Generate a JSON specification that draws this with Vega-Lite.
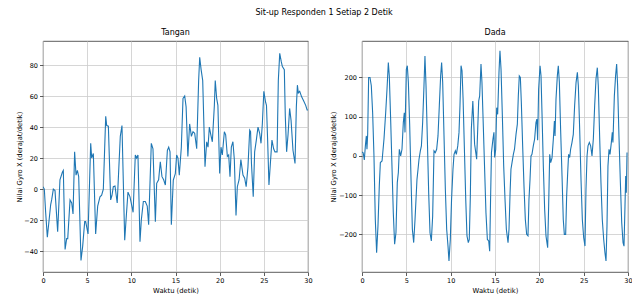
{
"$schema": "https://vega.github.io/schema/vega-lite/v6.json",
"background": "white",
"padding": {"left": 15, "top": 8, "right": 4, "bottom": 1},
"title": {"text": "Sit-up Responden 1 Setiap 2 Detik", "fontSize": 8, "font": "DejaVu Sans", "fontWeight": "normal", "anchor": "middle", "color": "black", "offset": 12},
"config": {
 "font": "DejaVu Sans",
 "view": {"stroke": "#333333", "strokeWidth": 0.8},
 "title": {"fontSize": 8, "fontWeight": "normal", "color": "black", "font": "DejaVu Sans", "offset": 4},
 "axis": {"labelFont": "DejaVu Sans", "titleFont": "DejaVu Sans", "labelFontSize": 6.5, "titleFontSize": 6.8, "titleFontWeight": "normal", "labelColor": "black", "titleColor": "black", "tickColor": "#333333", "tickSize": 3.5, "tickWidth": 0.8, "labelPadding": 2, "domain": false, "grid": true, "gridColor": "#cccccc", "gridWidth": 0.8, "titlePadding": 3}
},
"datasets": {
 "tangan": [
{"t":0,"v":1.5},{"t":0.15,"v":0},{"t":0.3,"v":-15},{"t":0.49,"v":-31},{"t":0.6,"v":-25},{"t":0.87,"v":-10},{"t":0.98,"v":-7},{"t":1.17,"v":0},{"t":1.36,"v":-1},{"t":1.66,"v":-27.5},{"t":1.92,"v":6},{"t":2.2,"v":11},{"t":2.3,"v":12},{"t":2.5,"v":-39},{"t":2.68,"v":-32},{"t":2.8,"v":-32},{"t":3.06,"v":-7},{"t":3.25,"v":-9},{"t":3.4,"v":-16},{"t":3.58,"v":24},{"t":3.74,"v":9},{"t":3.89,"v":12},{"t":4.04,"v":8},{"t":4.3,"v":-46},{"t":4.49,"v":-37},{"t":4.72,"v":-21},{"t":4.83,"v":-21},{"t":5.1,"v":-29},{"t":5.4,"v":29.5},{"t":5.51,"v":20},{"t":5.7,"v":23},{"t":5.96,"v":-29},{"t":6.19,"v":-11},{"t":6.45,"v":-5},{"t":6.64,"v":-4},{"t":6.83,"v":0},{"t":7.1,"v":47},{"t":7.21,"v":41},{"t":7.4,"v":40.6},{"t":7.66,"v":-7},{"t":7.81,"v":-4},{"t":7.96,"v":1.5},{"t":8.15,"v":2},{"t":8.4,"v":-9},{"t":8.75,"v":34},{"t":8.94,"v":41},{"t":9.25,"v":-33},{"t":9.4,"v":-20},{"t":9.62,"v":-2},{"t":9.85,"v":-5},{"t":10.2,"v":-15},{"t":10.45,"v":22},{"t":10.6,"v":20},{"t":10.75,"v":22},{"t":10.98,"v":-34},{"t":11.13,"v":-20},{"t":11.36,"v":-8},{"t":11.58,"v":-8},{"t":11.8,"v":-11},{"t":11.96,"v":-23},{"t":12.26,"v":29.5},{"t":12.45,"v":26},{"t":12.72,"v":-21},{"t":12.87,"v":3.7},{"t":13.09,"v":6},{"t":13.28,"v":17.6},{"t":13.47,"v":8},{"t":13.66,"v":6},{"t":13.85,"v":2.6},{"t":14.08,"v":25},{"t":14.23,"v":27},{"t":14.38,"v":24},{"t":14.53,"v":-23},{"t":14.75,"v":5.8},{"t":14.98,"v":10},{"t":15.13,"v":22},{"t":15.28,"v":20},{"t":15.43,"v":9},{"t":15.66,"v":27},{"t":15.85,"v":58.5},{"t":16.04,"v":60},{"t":16.2,"v":53},{"t":16.4,"v":21},{"t":16.6,"v":42},{"t":16.8,"v":34},{"t":16.98,"v":37},{"t":17.17,"v":36},{"t":17.4,"v":26},{"t":17.62,"v":70},{"t":17.74,"v":85},{"t":17.9,"v":77},{"t":18.08,"v":70},{"t":18.34,"v":14.4},{"t":18.53,"v":30.5},{"t":18.68,"v":27},{"t":18.83,"v":40},{"t":19.0,"v":35},{"t":19.17,"v":30.5},{"t":19.4,"v":54},{"t":19.5,"v":70},{"t":19.66,"v":58.5},{"t":19.8,"v":54},{"t":20.0,"v":10},{"t":20.15,"v":27},{"t":20.3,"v":22},{"t":20.53,"v":37},{"t":20.68,"v":35},{"t":20.87,"v":21},{"t":21.02,"v":22},{"t":21.17,"v":8},{"t":21.32,"v":27},{"t":21.5,"v":30.5},{"t":21.66,"v":19},{"t":21.85,"v":-17},{"t":22.0,"v":1.5},{"t":22.2,"v":6},{"t":22.4,"v":19},{"t":22.64,"v":9},{"t":22.83,"v":7},{"t":23.0,"v":1.5},{"t":23.2,"v":14},{"t":23.4,"v":38},{"t":23.5,"v":37},{"t":23.6,"v":16.5},{"t":23.8,"v":-5},{"t":23.96,"v":24},{"t":24.15,"v":31.6},{"t":24.34,"v":40},{"t":24.53,"v":36},{"t":24.68,"v":29.5},{"t":24.83,"v":42},{"t":25.0,"v":63},{"t":25.2,"v":56},{"t":25.3,"v":54},{"t":25.43,"v":31.6},{"t":25.58,"v":2.6},{"t":25.74,"v":16.5},{"t":25.92,"v":31.6},{"t":26.11,"v":26},{"t":26.26,"v":24},{"t":26.5,"v":24},{"t":26.64,"v":70},{"t":26.8,"v":87.5},{"t":26.98,"v":82},{"t":27.1,"v":79},{"t":27.32,"v":77},{"t":27.43,"v":47},{"t":27.58,"v":24},{"t":27.74,"v":35},{"t":27.92,"v":52},{"t":28.08,"v":44.5},{"t":28.3,"v":25},{"t":28.53,"v":16.5},{"t":28.68,"v":53},{"t":28.8,"v":67},{"t":28.9,"v":62},{"t":29.06,"v":63},{"t":29.28,"v":59.5},{"t":29.5,"v":57},{"t":29.74,"v":54},{"t":29.9,"v":51},{"t":30,"v":51}
 ],
 "dada": [
{"t":0,"v":10},{"t":0.13,"v":8},{"t":0.26,"v":-10},{"t":0.38,"v":25.5},{"t":0.49,"v":51},{"t":0.56,"v":17},{"t":0.64,"v":55},{"t":0.75,"v":200},{"t":0.9,"v":200},{"t":1.05,"v":179},{"t":1.2,"v":110},{"t":1.35,"v":0},{"t":1.5,"v":-162},{"t":1.65,"v":-247},{"t":1.8,"v":-179},{"t":1.95,"v":-77},{"t":2.07,"v":-17},{"t":2.26,"v":-13},{"t":2.48,"v":43},{"t":2.67,"v":110},{"t":2.82,"v":170},{"t":2.97,"v":238},{"t":3.08,"v":204},{"t":3.23,"v":94},{"t":3.38,"v":-25.5},{"t":3.53,"v":-145},{"t":3.68,"v":-225},{"t":3.83,"v":-196},{"t":3.98,"v":-68},{"t":4.1,"v":-42.5},{"t":4.21,"v":17},{"t":4.36,"v":0},{"t":4.51,"v":17},{"t":4.66,"v":85},{"t":4.77,"v":110},{"t":4.85,"v":60},{"t":5.0,"v":221},{"t":5.11,"v":230},{"t":5.23,"v":187},{"t":5.38,"v":77},{"t":5.53,"v":-60},{"t":5.68,"v":-187},{"t":5.83,"v":-221},{"t":5.98,"v":-162},{"t":6.09,"v":-111},{"t":6.2,"v":-60},{"t":6.32,"v":-34},{"t":6.43,"v":-8.5},{"t":6.58,"v":13},{"t":6.7,"v":25.5},{"t":6.84,"v":85},{"t":6.99,"v":179},{"t":7.1,"v":255},{"t":7.22,"v":179},{"t":7.37,"v":43},{"t":7.52,"v":-94},{"t":7.67,"v":-196},{"t":7.82,"v":-217},{"t":7.97,"v":-153},{"t":8.12,"v":13},{"t":8.27,"v":8.5},{"t":8.42,"v":17},{"t":8.57,"v":51},{"t":8.72,"v":128},{"t":8.87,"v":204},{"t":8.98,"v":238},{"t":9.1,"v":187},{"t":9.25,"v":51},{"t":9.4,"v":-85},{"t":9.55,"v":-187},{"t":9.7,"v":-230},{"t":9.81,"v":-268},{"t":9.96,"v":-213},{"t":10.1,"v":-111},{"t":10.26,"v":-34},{"t":10.38,"v":4},{"t":10.53,"v":13},{"t":10.64,"v":4},{"t":10.8,"v":25.5},{"t":10.94,"v":60},{"t":11.05,"v":128},{"t":11.17,"v":230},{"t":11.28,"v":217},{"t":11.4,"v":145},{"t":11.54,"v":25.5},{"t":11.7,"v":-111},{"t":11.84,"v":-204},{"t":11.99,"v":-221},{"t":12.1,"v":-213},{"t":12.22,"v":-102},{"t":12.33,"v":68},{"t":12.5,"v":140},{"t":12.6,"v":85},{"t":12.7,"v":30},{"t":12.86,"v":4},{"t":12.93,"v":-8.5},{"t":13.05,"v":68},{"t":13.16,"v":140},{"t":13.27,"v":153},{"t":13.42,"v":234},{"t":13.53,"v":187},{"t":13.68,"v":77},{"t":13.83,"v":-34},{"t":13.98,"v":-145},{"t":14.14,"v":-213},{"t":14.29,"v":-217},{"t":14.4,"v":-243},{"t":14.5,"v":-111},{"t":14.6,"v":8.5},{"t":14.77,"v":43},{"t":14.88,"v":60},{"t":14.96,"v":-4},{"t":15.08,"v":17},{"t":15.19,"v":123},{"t":15.3,"v":106},{"t":15.45,"v":213},{"t":15.56,"v":268},{"t":15.68,"v":221},{"t":15.83,"v":102},{"t":15.98,"v":-25.5},{"t":16.13,"v":-111},{"t":16.28,"v":-187},{"t":16.47,"v":-221},{"t":16.58,"v":-187},{"t":16.7,"v":-94},{"t":16.8,"v":-34},{"t":16.92,"v":-17},{"t":17.07,"v":4},{"t":17.2,"v":17},{"t":17.37,"v":55},{"t":17.52,"v":81},{"t":17.63,"v":153},{"t":17.74,"v":204},{"t":17.86,"v":200},{"t":17.97,"v":136},{"t":18.12,"v":25.5},{"t":18.27,"v":-77},{"t":18.42,"v":-162},{"t":18.57,"v":-200},{"t":18.72,"v":-204},{"t":18.83,"v":-111},{"t":18.95,"v":-60},{"t":19.06,"v":0},{"t":19.17,"v":4},{"t":19.32,"v":25.5},{"t":19.47,"v":43},{"t":19.62,"v":85},{"t":19.72,"v":94},{"t":19.81,"v":40},{"t":19.92,"v":170},{"t":20.08,"v":230},{"t":20.19,"v":204},{"t":20.3,"v":110},{"t":20.45,"v":-25.5},{"t":20.6,"v":-136},{"t":20.75,"v":-204},{"t":20.94,"v":-234},{"t":21.05,"v":-128},{"t":21.17,"v":4},{"t":21.28,"v":-17},{"t":21.43,"v":-5},{"t":21.58,"v":43},{"t":21.7,"v":89},{"t":21.77,"v":51},{"t":21.88,"v":145},{"t":22.03,"v":204},{"t":22.14,"v":230},{"t":22.26,"v":187},{"t":22.4,"v":68},{"t":22.56,"v":-51},{"t":22.7,"v":-162},{"t":22.82,"v":-200},{"t":22.97,"v":-200},{"t":23.08,"v":-102},{"t":23.2,"v":-42.5},{"t":23.3,"v":4},{"t":23.42,"v":-4},{"t":23.53,"v":17},{"t":23.68,"v":34},{"t":23.83,"v":55},{"t":23.98,"v":128},{"t":24.14,"v":187},{"t":24.29,"v":213},{"t":24.4,"v":179},{"t":24.55,"v":68},{"t":24.7,"v":-60},{"t":24.85,"v":-162},{"t":25.0,"v":-208},{"t":25.15,"v":-230},{"t":25.26,"v":-85},{"t":25.38,"v":0},{"t":25.49,"v":25.5},{"t":25.64,"v":34},{"t":25.79,"v":25.5},{"t":25.94,"v":0},{"t":26.09,"v":43},{"t":26.24,"v":128},{"t":26.39,"v":196},{"t":26.54,"v":225},{"t":26.65,"v":179},{"t":26.8,"v":51},{"t":26.95,"v":-68},{"t":27.1,"v":-162},{"t":27.26,"v":-213},{"t":27.4,"v":-247},{"t":27.52,"v":-268},{"t":27.63,"v":-179},{"t":27.74,"v":-25.5},{"t":27.86,"v":17},{"t":27.97,"v":4},{"t":28.12,"v":34},{"t":28.23,"v":60},{"t":28.3,"v":34},{"t":28.46,"v":153},{"t":28.6,"v":204},{"t":28.72,"v":234},{"t":28.83,"v":179},{"t":28.98,"v":51},{"t":29.14,"v":-68},{"t":29.29,"v":-170},{"t":29.44,"v":-221},{"t":29.55,"v":-230},{"t":29.66,"v":-128},{"t":29.74,"v":-51},{"t":29.81,"v":-94},{"t":29.89,"v":8.5}
 ]
},
"spacing": 17,
"hconcat": [
 {
  "width": 265, "height": 231,
  "title": "Tangan",
  "data": {"name": "tangan"},
  "mark": {"type": "line", "color": "#1f77b4", "strokeWidth": 1.1, "clip": true},
  "encoding": {
   "x": {"field": "t", "type": "quantitative", "scale": {"domain": [0, 30], "nice": false, "zero": false}, "axis": {"values": [0, 5, 10, 15, 20, 25, 30], "title": "Waktu (detik)", "labelFlush": false}},
   "y": {"field": "v", "type": "quantitative", "scale": {"domain": [-53.5, 95.5], "nice": false, "zero": false}, "axis": {"values": [-40, -20, 0, 20, 40, 60, 80], "title": "Nilai Gyro X (derajat/detik)", "minExtent": 17, "maxExtent": 17, "titlePadding": 4}}
  }
 },
 {
  "width": 266, "height": 231,
  "title": "Dada",
  "data": {"name": "dada"},
  "mark": {"type": "line", "color": "#1f77b4", "strokeWidth": 1.1, "clip": true},
  "encoding": {
   "x": {"field": "t", "type": "quantitative", "scale": {"domain": [0, 30], "nice": false, "zero": false}, "axis": {"values": [0, 5, 10, 15, 20, 25, 30], "title": "Waktu (detik)", "labelFlush": false}},
   "y": {"field": "v", "type": "quantitative", "scale": {"domain": [-296, 293], "nice": false, "zero": false}, "axis": {"values": [-200, -100, 0, 100, 200], "title": "Nilai Gyro X (derajat/detik)", "minExtent": 21, "maxExtent": 21, "titlePadding": 4.5}}
  }
 }
]
}
